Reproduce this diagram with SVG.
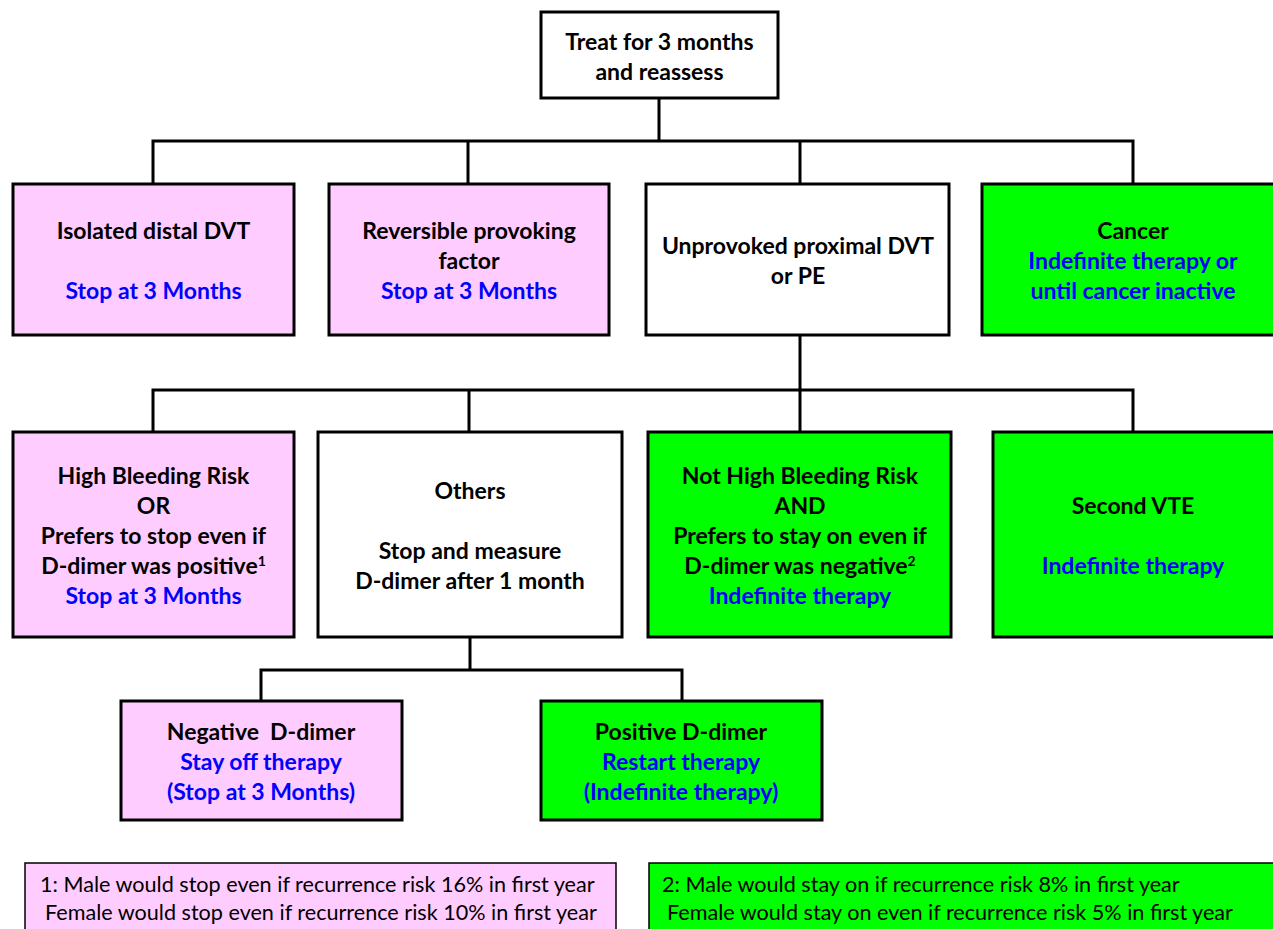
<svg xmlns="http://www.w3.org/2000/svg" width="1273" height="929" viewBox="0 0 1273 929">
<style>
.box{stroke:#000;stroke-width:3}
.w{fill:#fff}
.p{fill:#FFCCFF}
.g{fill:#00FF00}
.t{font-family:Lato,"Liberation Sans",sans-serif;font-weight:bold;font-size:23px;fill:#000;text-anchor:middle}
.b{fill:#0000FF}
.f{font-family:Lato,"Liberation Sans",sans-serif;font-size:21.6px;fill:#000}
.c{fill:none;stroke:#000;stroke-width:3}
.sup{font-size:14px}
</style>
<rect width="1273" height="929" fill="#fff"/>
<g id="connectors">
<path class="c" d="M659,98V141M153,184V141H1133V184M468,141V184M800,141V184"/>
<path class="c" d="M800,335V390M153,432V390H1133V432M469,390V432M800,390V432"/>
<path class="c" d="M470,637V670M261,701V670H682V701"/>
</g>
<g id="n-treat">
<rect class="box w" x="541" y="12" width="237" height="86"/>
<text class="t" x="659.5" y="50">Treat for 3 months</text>
<text class="t" x="659.5" y="80">and reassess</text>
</g>
<g id="n-distal">
<rect class="box p" x="13" y="184" width="281" height="151"/>
<text class="t" x="153.5" y="239">Isolated distal DVT</text>
<text class="t b" x="153.5" y="299">Stop at 3 Months</text>
</g>
<g id="n-reversible">
<rect class="box p" x="329" y="184" width="280" height="151"/>
<text class="t" x="469" y="239">Reversible provoking</text>
<text class="t" x="469" y="269">factor</text>
<text class="t b" x="469" y="299">Stop at 3 Months</text>
</g>
<g id="n-unprovoked">
<rect class="box w" x="646" y="184" width="303" height="151"/>
<text class="t" x="798" y="254">Unprovoked proximal DVT</text>
<text class="t" x="798" y="284">or PE</text>
</g>
<g id="n-cancer">
<rect class="box g" x="982" y="184" width="293" height="151"/>
<text class="t" x="1133" y="239">Cancer</text>
<text class="t b" x="1133" y="269">Indefinite therapy or</text>
<text class="t b" x="1133" y="299">until cancer inactive</text>
</g>
<g id="n-highbleed">
<rect class="box p" x="13" y="432" width="281" height="205"/>
<text class="t" x="153.5" y="484">High Bleeding Risk</text>
<text class="t" x="153.5" y="514">OR</text>
<text class="t" x="153.5" y="544">Prefers to stop even if</text>
<text class="t" x="153.5" y="574">D-dimer was positive<tspan class="sup" dy="-8">1</tspan></text>
<text class="t b" x="153.5" y="604">Stop at 3 Months</text>
</g>
<g id="n-others">
<rect class="box w" x="318" y="432" width="304" height="205"/>
<text class="t" x="470" y="499">Others</text>
<text class="t" x="470" y="559">Stop and measure</text>
<text class="t" x="470" y="589">D-dimer after 1 month</text>
</g>
<g id="n-nothigh">
<rect class="box g" x="648" y="432" width="303" height="205"/>
<text class="t" x="800" y="484">Not High Bleeding Risk</text>
<text class="t" x="800" y="514">AND</text>
<text class="t" x="800" y="544">Prefers to stay on even if</text>
<text class="t" x="800" y="574">D-dimer was negative<tspan class="sup" dy="-8">2</tspan></text>
<text class="t b" x="800" y="604">Indefinite therapy</text>
</g>
<g id="n-second">
<rect class="box g" x="993" y="432" width="282" height="205"/>
<text class="t" x="1133" y="514">Second VTE</text>
<text class="t b" x="1133" y="574">Indefinite therapy</text>
</g>
<g id="n-negative">
<rect class="box p" x="121" y="701" width="281" height="119"/>
<text class="t" x="261" y="740" xml:space="preserve">Negative  D-dimer</text>
<text class="t b" x="261" y="770">Stay off therapy</text>
<text class="t b" x="261" y="800">(Stop at 3 Months)</text>
</g>
<g id="n-positive">
<rect class="box g" x="541" y="701" width="281" height="119"/>
<text class="t" x="681" y="740">Positive D-dimer</text>
<text class="t b" x="681" y="770">Restart therapy</text>
<text class="t b" x="681" y="800">(Indefinite therapy)</text>
</g>
<g id="n-note1">
<rect x="25" y="863" width="591" height="80" fill="#FFCCFF" stroke="#000" stroke-width="1.5"/>
<text class="f" x="40" y="892">1: Male would stop even if recurrence risk 16% in first year</text>
<text class="f" x="45" y="920">Female would stop even if recurrence risk 10% in first year</text>
</g>
<g id="n-note2">
<rect x="649" y="863" width="630" height="80" fill="#00FF00" stroke="#000" stroke-width="1.5"/>
<text class="f" x="662" y="892">2: Male would stay on if recurrence risk 8% in first year</text>
<text class="f" x="667" y="920">Female would stay on even if recurrence risk 5% in first year</text>
</g>
</svg>
